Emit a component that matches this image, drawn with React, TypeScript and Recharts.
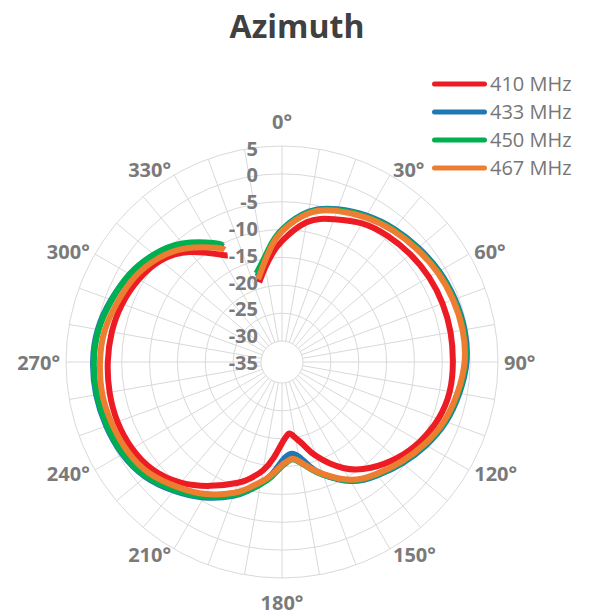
import React from 'react';
import {
  RadarChart,
  Radar,
  PolarGrid,
  PolarAngleAxis,
  PolarRadiusAxis,
  Legend,
  Curve,
} from 'recharts';

// azimuth in degrees; 338 is the missing sample that opens the gap near 340°
const azimuth = [
  0, 10, 20, 30, 40, 50, 60, 70, 80, 90, 100, 110, 120, 130, 140, 150, 160, 165, 170, 174,
  177, 180, 185, 190, 195, 200, 210, 220, 230, 240, 250, 260, 270, 280, 290, 300, 310, 320,
  330, 333, 338, 344, 350, 355,
];

const gain410 = [
  -12.05, -8.3, -6.5, -5.05, -4.25, -3.7, -3.3, -3.1, -3.05, -3.1, -3.2, -3.9, -5.2, -6.9,
  -9.0, -11.8, -15.8, -18.2, -19.95, -20.85, -20.3, -19.2, -16.5, -14.0, -12.2, -10.7, -8.1,
  -5.5, -3.6, -2.7, -2.35, -2.35, -2.5, -2.75, -3.25, -4.1, -5.4, -8.0, -11.5, -12.3, null,
  -18.9, -16.5, -14.2,
];
const gain433 = [
  -10.0, -6.4, -4.6, -3.45, -2.55, -1.85, -1.2, -0.75, -0.5, -0.65, -1.45, -2.45, -3.9, -5.55,
  -7.2, -9.1, -12.3, -14.3, -16.5, -17.2, -16.9, -16.0, -13.6, -11.5, -9.8, -8.2, -5.7, -3.6,
  -1.75, -0.7, -0.2, 0.1, 0.15, -0.2, -1.15, -2.3, -3.85, -6.2, -9.35, -10.5, null, -17.8,
  -15.3, -12.6,
];
const gain450 = [
  -10.1, -6.55, -4.75, -3.65, -2.75, -2.05, -1.4, -0.95, -0.7, -0.85, -1.65, -2.65, -4.1,
  -5.75, -7.35, -9.2, -12.25, -13.9, -15.5, -16.2, -15.8, -15.1, -13.2, -11.5, -9.9, -8.35,
  -5.9, -3.8, -1.9, -0.85, -0.35, -0.05, 0.0, -0.35, -1.25, -2.2, -3.75, -6.0, -9.1, -10.2,
  null, -17.2, -15.0, -12.4,
];
const gain467 = [
  -10.3, -6.7, -4.9, -3.8, -2.9, -2.2, -1.55, -1.1, -0.85, -1.0, -1.8, -2.8, -4.25, -5.9,
  -7.5, -9.35, -12.4, -14.0, -15.6, -16.3, -15.9, -15.3, -13.5, -11.9, -10.3, -8.8, -6.4,
  -4.5, -2.7, -1.75, -1.3, -1.0, -1.1, -1.45, -2.35, -3.25, -4.8, -7.1, -10.1, -11.15, null,
  -18.3, -15.6, -12.8,
];

const seriesNames = ['410 MHz', '433 MHz', '450 MHz', '467 MHz'];
const seriesColors = ['#ED1C24', '#1F78B4', '#00B050', '#ED7D31'];
const series = [gain410, gain433, gain450, gain467];

const spokeTicks = [
  0, 10, 20, 30, 40, 50, 60, 70, 80, 90, 100, 110, 120, 130, 140, 150, 160, 170, 180, 190,
  200, 210, 220, 230, 240, 250, 260, 270, 280, 290, 300, 310, 320, 330, 340, 350,
];
const gridTicks = [-30, -25, -20, -15, -10, -5, 0, 5];
const labelTicks = [-35, -30, -25, -20, -15, -10, -5, 0, 5];

const data = azimuth.map((angle, i) => {
  const row: Record<string, number | null> = { angle };
  series.forEach((s, k) => {
    row[`s${k}`] = s[i];
  });
  return row;
});

const FONT = '"Open Sans", "DejaVu Sans", sans-serif';
const LABEL_GREY = '#7a7a7a';

// draws the radar points as a smooth open trace, broken where a sample is missing
const RadarTrace = (props: any) => {
  const { points, stroke, strokeWidth } = props;
  const segs: any[][] = [[]];
  points.forEach((p: any) => {
    if (p.value == null) {
      if (segs[segs.length - 1].length) segs.push([]);
    } else {
      segs[segs.length - 1].push({ x: p.x, y: p.y });
    }
  });
  const first = points[0];
  const last = points[points.length - 1];
  if (segs.length > 1 && first.value != null && last.value != null) {
    const tail = segs.pop() as any[];
    segs[0] = [...tail, ...segs[0]];
  }
  return (
    <g>
      {segs
        .filter((s) => s.length > 1)
        .map((s, i) => (
          <Curve
            key={i}
            type="natural"
            points={s}
            stroke={stroke}
            strokeWidth={strokeWidth}
            strokeLinejoin="round"
            strokeLinecap="butt"
            fill="none"
          />
        ))}
    </g>
  );
};

const AngleTick = (props: any) => {
  const { x, y, payload, textAnchor } = props;
  if (payload.value % 30 !== 0) return null;
  const shift = payload.value === 0 ? -19 : payload.value === 180 ? 18 : 0;
  return (
    <text
      x={x}
      y={y + shift}
      textAnchor={textAnchor}
      dominantBaseline="central"
      fontFamily={FONT}
      fontWeight={700}
      fontSize={20}
      fill={LABEL_GREY}
    >
      {`${payload.value}°`}
    </text>
  );
};

const RadiusTick = (props: any) => {
  const { x, y, payload } = props;
  return (
    <text
      x={x - 24}
      y={y}
      textAnchor="end"
      dominantBaseline="central"
      fontFamily={FONT}
      fontWeight={700}
      fontSize={20}
      fill={LABEL_GREY}
    >
      {payload.value}
    </text>
  );
};

const renderLegend = ({ payload }: any) => (
  <div style={{ display: 'flex', flexDirection: 'column' }}>
    {(payload || []).map((entry: any) => (
      <div key={entry.value} style={{ display: 'flex', alignItems: 'center', height: 28 }}>
        <svg width={60} height={10}>
          <line
            x1={5.5}
            y1={5}
            x2={55.5}
            y2={5}
            stroke={entry.color}
            strokeWidth={5}
            strokeLinecap="round"
          />
        </svg>
        <span style={{ color: '#767676', fontSize: 20, fontFamily: FONT, marginLeft: 1, lineHeight: '28px' }}>
          {entry.value}
        </span>
      </div>
    ))}
  </div>
);

export default function App() {
  return (
    <div style={{ position: 'absolute', left: 0, top: 0, width: 594, height: 614, background: '#fff' }}>
      <div
        style={{
          position: 'absolute',
          left: 0,
          top: 4,
          width: 594,
          textAlign: 'center',
          fontFamily: FONT,
          fontWeight: 700,
          fontSize: 32,
          color: '#404040',
          lineHeight: 'normal',
        }}
      >
        Azimuth
      </div>
      <RadarChart
        width={594}
        height={614}
        data={data}
        cx={282}
        cy={362}
        innerRadius={21}
        outerRadius={216}
        margin={{ top: 0, right: 0, bottom: 0, left: 0 }}
      >
        <PolarGrid gridType="circle" stroke="#d9d9d9" strokeWidth={1} />
        <PolarAngleAxis
          dataKey="angle"
          type="number"
          domain={[0, 360]}
          allowDataOverflow
          ticks={spokeTicks}
          tick={AngleTick}
          tickSize={6}
          tickLine={false}
          axisLine={false}
        />
        <PolarRadiusAxis
          angle={90}
          type="number"
          domain={[-30, 5]}
          allowDataOverflow
          ticks={gridTicks}
          tick={false}
          tickLine={false}
          axisLine={false}
        />
        {/* label column is spaced evenly down to the centre, like the original */}
        <PolarRadiusAxis
          radiusAxisId="labels"
          angle={90}
          type="number"
          domain={[-30.9, 5.4]}
          allowDataOverflow
          ticks={labelTicks}
          tick={RadiusTick}
          tickLine={false}
          axisLine={false}
        />
        {series.map((_, k) => (
          <Radar
            key={seriesNames[k]}
            dataKey={`s${k}`}
            name={seriesNames[k]}
            stroke={seriesColors[k]}
            strokeWidth={6}
            fill="none"
            dot={false}
            shape={RadarTrace}
            isAnimationActive={false}
          />
        ))}
        <Legend
          layout="vertical"
          verticalAlign="top"
          align="right"
          content={renderLegend}
          wrapperStyle={{ top: 70, left: 429, width: 165 }}
        />
      </RadarChart>
    </div>
  );
}
